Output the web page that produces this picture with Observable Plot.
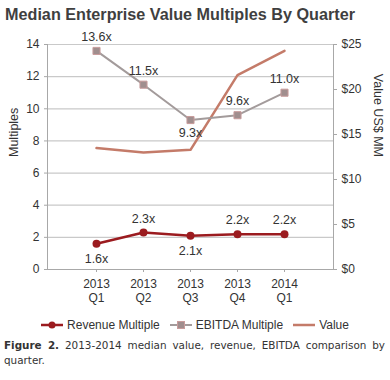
<!DOCTYPE html>
<html>
<head>
<meta charset="utf-8">
<script src="https://cdn.jsdelivr.net/npm/d3@7"></script>
<script src="https://cdn.jsdelivr.net/npm/@observablehq/plot@0.6"></script>
<style>
  body { margin: 0; width: 390px; height: 380px; background: #fff; font-family: "Liberation Sans", Arial, sans-serif; overflow: hidden; }
  #title { position: absolute; left: 5px; top: 5px; font-size: 16.2px; font-weight: bold; color: #3f3f3f; }
  #chart { position: absolute; left: 0; top: 30px; }
  #legend { position: absolute; left: 0; top: 318px; width: 390px; text-align: center; font-size: 12px; color: #333; white-space: nowrap; }
  #legend span.item { display: inline-flex; align-items: center; margin: 0 5px; }
  #legend svg { margin-right: 4px; }
  #caption { position: absolute; left: 4px; top: 338px; width: 381px; font-family: "DejaVu Sans", Verdana, sans-serif; font-size: 10.4px; line-height: 15px; color: #333; text-align: justify; }
</style>
</head>
<body>
<div id="title">Median Enterprise Value Multiples By Quarter</div>
<div id="chart"></div>
<div id="legend"></div>
<div id="caption"><b>Figure 2.</b><span> 2013-2014 median value, revenue, EBITDA comparison by quarter.</span></div>
<script>
const quarters = ["2013\nQ1", "2013\nQ2", "2013\nQ3", "2013\nQ4", "2014\nQ1"];
const revenueMultiple = [1.6, 2.3, 2.1, 2.2, 2.2];
const ebitdaMultiple = [13.6, 11.5, 9.3, 9.6, 11.0];
const valueMM = [13.5, 13.0, 13.3, 21.6, 24.3];
const revenueLabelPos = ["below", "above", "below", "above", "above"];
const ebitdaLabelPos = ["above", "above", "below", "above", "above"];
const leftTicks = [0, 2, 4, 6, 8, 10, 12, 14];
const rightTicks = [0, 5, 10, 15, 20, 25];
const leftMax = 14, rightMax = 25;

const toLeft = v => v * leftMax / rightMax;

const rev = quarters.map((q, i) => ({q, v: revenueMultiple[i], pos: revenueLabelPos[i]}));
const ebit = quarters.map((q, i) => ({q, v: ebitdaMultiple[i], pos: ebitdaLabelPos[i]}));
const val = quarters.map((q, i) => ({q, v: toLeft(valueMM[i])}));

const cRev = "#9b1b1f", cEbit = "#a39b9b", cEbitFill = "#a08e8e", cEbitStroke = "#c99c9c", cVal = "#c47b69";
const grid = "#c9c9c9", axisC = "#a8a8a8", textC = "#333";

const chart = Plot.plot({
  width: 390,
  height: 290,
  marginTop: 14,
  marginLeft: 47,
  marginRight: 57,
  marginBottom: 51,
  style: {fontFamily: "'Liberation Sans', Arial, sans-serif", fontSize: "12px", color: textC, background: "#fff"},
  x: {type: "point", domain: quarters, padding: 1},
  y: {domain: [0, leftMax]},
  marks: [
    Plot.ruleY(leftTicks, {stroke: grid, strokeWidth: 1.2}),
    Plot.axisY({ticks: leftTicks, tickSize: 3, tickPadding: 5, stroke: axisC, label: null, anchor: "left"}),
    Plot.axisY({ticks: rightTicks.map(toLeft), tickFormat: d => "$" + Math.round(d * rightMax / leftMax), tickSize: 3, tickPadding: 5, stroke: axisC, label: null, anchor: "right"}),
    Plot.axisX({tickSize: 3, tickPadding: 6, stroke: axisC, label: null, lineHeight: 1.15}),
    Plot.frame({anchor: "left", stroke: axisC}),
    Plot.frame({anchor: "right", stroke: axisC}),
    Plot.frame({anchor: "bottom", stroke: axisC}),
    Plot.text(["Multiples"], {frameAnchor: "left", dx: -34, rotate: -90, fontSize: 12.5, fill: textC}),
    Plot.text(["Value US$ MM"], {frameAnchor: "right", dx: 44, rotate: 90, fontSize: 12.5, fill: textC}),
    Plot.line(val, {x: "q", y: "v", stroke: cVal, strokeWidth: 2.5}),
    Plot.line(ebit, {x: "q", y: "v", stroke: cEbit, strokeWidth: 2}),
    Plot.dot(ebit, {x: "q", y: "v", symbol: "square", r: 4, fill: cEbitFill, stroke: cEbitStroke, strokeWidth: 1}),
    Plot.line(rev, {x: "q", y: "v", stroke: cRev, strokeWidth: 2.5}),
    Plot.dot(rev, {x: "q", y: "v", r: 4, fill: cRev}),
    Plot.text(ebit, {x: "q", y: "v", text: d => d.v.toFixed(1) + "x", fontSize: 12.5, fill: textC,
      filter: d => d.pos === "above", dy: -14}),
    Plot.text(ebit, {x: "q", y: "v", text: d => d.v.toFixed(1) + "x", fontSize: 12.5, fill: textC,
      filter: d => d.pos === "below", dy: 13}),
    Plot.text(rev, {x: "q", y: "v", text: d => d.v.toFixed(1) + "x", fontSize: 12.5, fill: textC,
      filter: d => d.pos === "above", dy: -14}),
    Plot.text(rev, {x: "q", y: "v", text: d => d.v.toFixed(1) + "x", fontSize: 12.5, fill: textC,
      filter: d => d.pos === "below", dy: 15})
  ]
});
document.getElementById("chart").appendChild(chart);

const legendItems = [
  {name: "Revenue Multiple", kind: "circle"},
  {name: "EBITDA Multiple", kind: "square"},
  {name: "Value", kind: "line"}
];
const lg = document.getElementById("legend");
for (const it of legendItems) {
  const span = document.createElement("span");
  span.className = "item";
  let sym = "";
  if (it.kind === "circle") sym = `<svg width="22" height="10"><line x1="0" y1="5" x2="22" y2="5" stroke="${cRev}" stroke-width="2.5"/><circle cx="11" cy="5" r="3.5" fill="${cRev}"/></svg>`;
  if (it.kind === "square") sym = `<svg width="22" height="10"><line x1="0" y1="5" x2="22" y2="5" stroke="${cEbit}" stroke-width="2"/><rect x="7.5" y="1.5" width="7" height="7" fill="${cEbitFill}" stroke="${cEbitStroke}"/></svg>`;
  if (it.kind === "line") sym = `<svg width="22" height="10"><line x1="0" y1="5" x2="22" y2="5" stroke="${cVal}" stroke-width="2.5"/></svg>`;
  span.innerHTML = sym + it.name;
  lg.appendChild(span);
}
</script>
</body>
</html>
